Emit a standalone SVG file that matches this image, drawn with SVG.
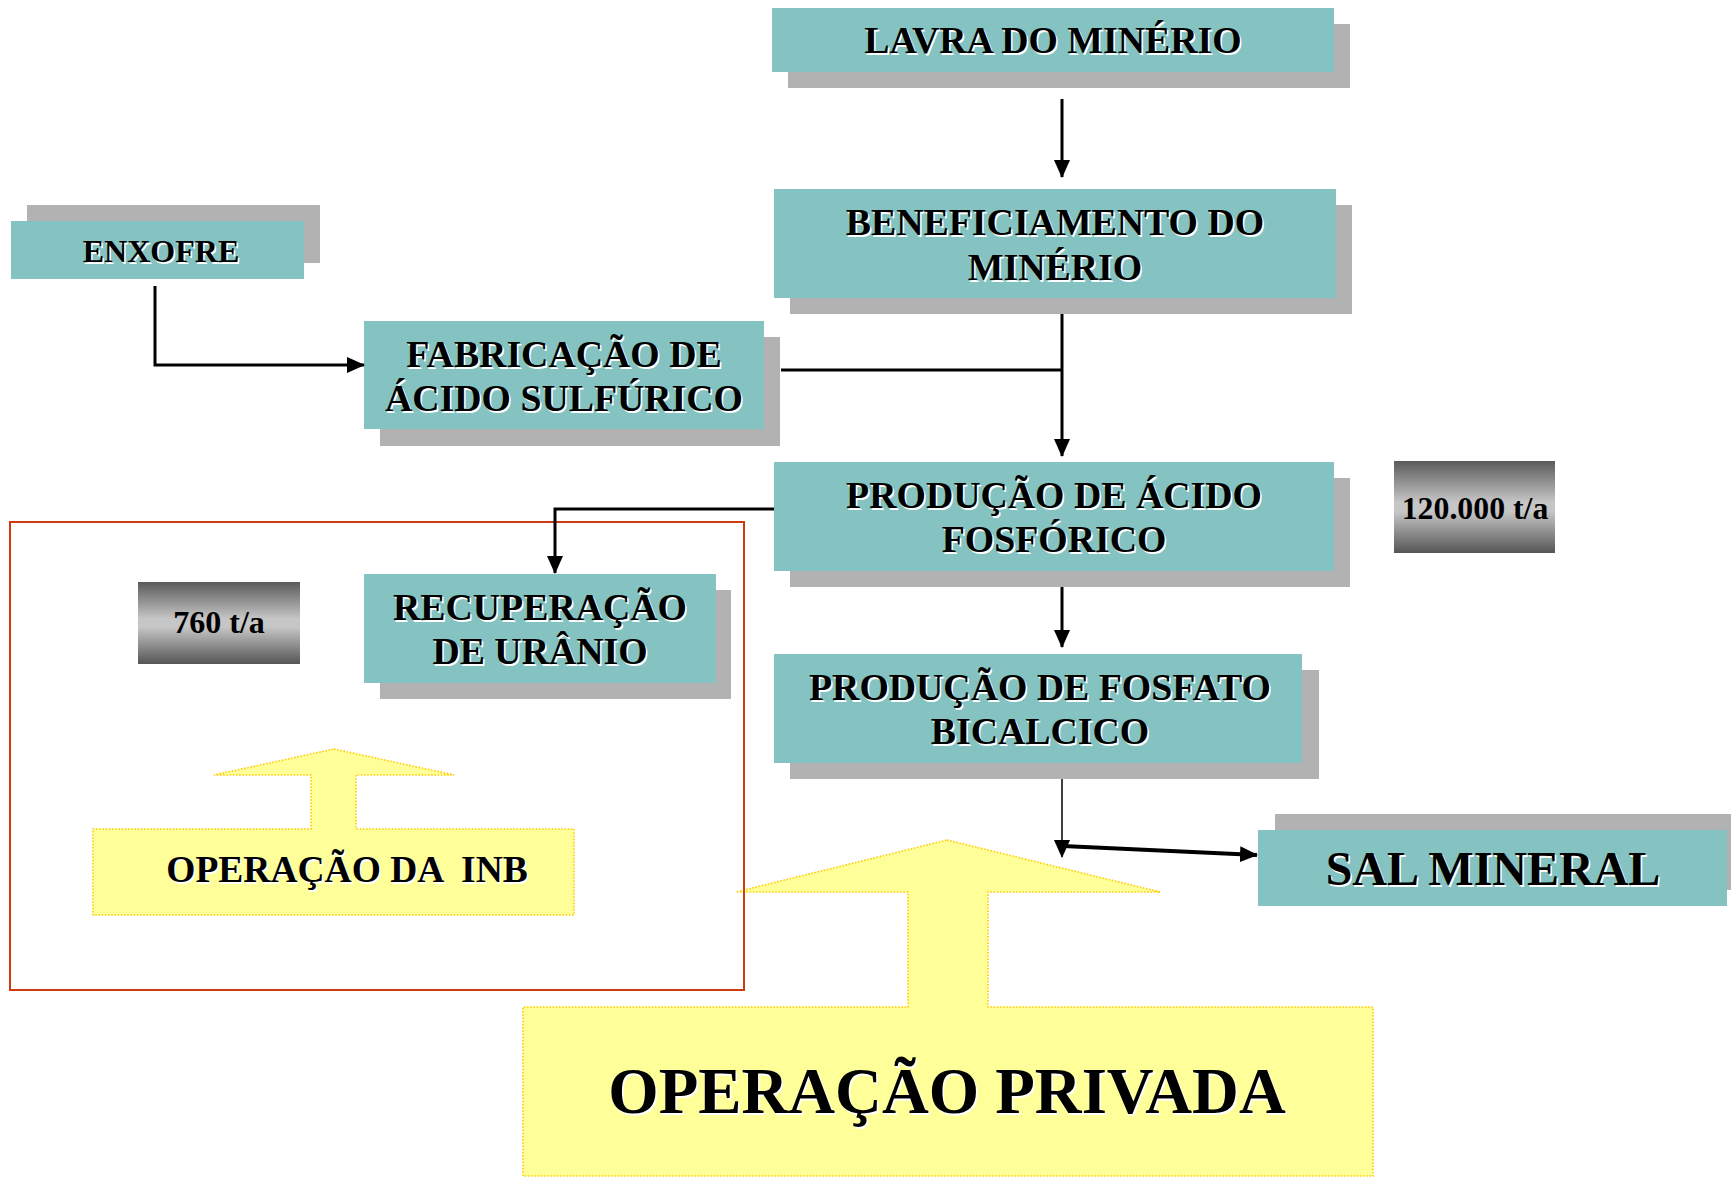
<svg xmlns="http://www.w3.org/2000/svg" width="1731" height="1178" viewBox="0 0 1731 1178">
<style>
.box{fill:#84c3c1}
.shd{fill:#b2b2b2}
.t{font-family:"Liberation Serif","Times New Roman",serif;font-weight:bold;text-anchor:middle;fill:#000;white-space:pre}
.m{font-size:37.8px}
.w{fill:#fff}
.yel{fill:#ffff99;stroke:#ffcc00;stroke-width:1.6;stroke-dasharray:1.6 1.6}
.gr{fill:url(#gg)}
.ln{fill:none;stroke:#000;stroke-width:3}
</style>
<defs>
<linearGradient id="gg" x1="0" y1="0" x2="0" y2="1">
<stop offset="0" stop-color="#5a5a5a"/>
<stop offset="0.45" stop-color="#c6c6c6"/>
<stop offset="0.55" stop-color="#c6c6c6"/>
<stop offset="1" stop-color="#555"/>
</linearGradient>
<marker id="ah" markerUnits="userSpaceOnUse" markerWidth="18" markerHeight="16" refX="17" refY="8" orient="auto">
<path d="M0,0 L18,8 L0,16 Z" fill="#000"/>
</marker>
</defs>

<g id="private-op">
<polygon class="yel" points="947,840 1160,892 988,892 988,1007 1373,1007 1373,1176 523,1176 523,1007 908,1007 908,892 736,892"/>
<text class="t w" x="948.5" y="1114.5" font-size="64.8">OPERAÇÃO PRIVADA</text>
<text class="t" x="947" y="1113" font-size="64.8">OPERAÇÃO PRIVADA</text>
</g>

<g id="inb-op">
<polygon class="yel" points="334,749 454,775 356,775 356,829 574,829 574,915 93,915 93,829 311,829 311,775 214,775"/>
<text class="t w" x="348.5" y="883.5" font-size="37.5">OPERAÇÃO DA  INB</text>
<text class="t" x="347" y="882" font-size="37.5">OPERAÇÃO DA  INB</text>
</g>

<rect id="inb-frame" x="10" y="522" width="734" height="468" fill="none" stroke="#d03a10" stroke-width="2"/>

<g id="lavra">
<rect class="shd" x="788" y="24" width="562" height="64"/>
<rect class="box" x="772" y="8" width="562" height="64"/>
<text class="t m w" x="1054.5" y="54.5">LAVRA DO MINÉRIO</text>
<text class="t m" x="1053" y="53">LAVRA DO MINÉRIO</text>
</g>

<g id="beneficiamento">
<rect class="shd" x="790" y="205" width="562" height="109"/>
<rect class="box" x="774" y="189" width="562" height="109"/>
<text class="t m w" x="1056.5" y="236.5">BENEFICIAMENTO DO</text>
<text class="t m" x="1055" y="235">BENEFICIAMENTO DO</text>
<text class="t m w" x="1056.5" y="281.5">MINÉRIO</text>
<text class="t m" x="1055" y="280">MINÉRIO</text>
</g>

<g id="enxofre">
<rect class="shd" x="27" y="205" width="293" height="58"/>
<rect class="box" x="11" y="221" width="293" height="58"/>
<text class="t w" x="162.5" y="263.5" font-size="32">ENXOFRE</text>
<text class="t" x="161" y="262" font-size="32">ENXOFRE</text>
</g>

<g id="fabricacao">
<rect class="shd" x="380" y="337" width="400" height="109"/>
<rect class="box" x="364" y="321" width="400" height="108"/>
<text class="t m w" x="565.5" y="368.5">FABRICAÇÃO DE</text>
<text class="t m" x="564" y="367">FABRICAÇÃO DE</text>
<text class="t m w" x="565.5" y="412.5">ÁCIDO SULFÚRICO</text>
<text class="t m" x="564" y="411">ÁCIDO SULFÚRICO</text>
</g>

<g id="acido-fosforico">
<rect class="shd" x="790" y="478" width="560" height="109"/>
<rect class="box" x="774" y="462" width="560" height="109"/>
<text class="t m w" x="1055.5" y="509.5">PRODUÇÃO DE ÁCIDO</text>
<text class="t m" x="1054" y="508">PRODUÇÃO DE ÁCIDO</text>
<text class="t m w" x="1055.5" y="553.5">FOSFÓRICO</text>
<text class="t m" x="1054" y="552">FOSFÓRICO</text>
</g>

<g id="cap-120000">
<rect class="gr" x="1394" y="461" width="161" height="92"/>
<text class="t" x="1475" y="519" font-size="31.8">120.000 t/a</text>
</g>

<g id="recuperacao">
<rect class="shd" x="380" y="590" width="351" height="109"/>
<rect class="box" x="364" y="574" width="352" height="109"/>
<text class="t m w" x="541.5" y="621.5">RECUPERAÇÃO</text>
<text class="t m" x="540" y="620">RECUPERAÇÃO</text>
<text class="t m w" x="541.5" y="665.5">DE URÂNIO</text>
<text class="t m" x="540" y="664">DE URÂNIO</text>
</g>

<g id="cap-760">
<rect class="gr" x="138" y="582" width="162" height="82"/>
<text class="t" x="219" y="633" font-size="32">760 t/a</text>
</g>

<g id="fosfato">
<rect class="shd" x="790" y="670" width="529" height="109"/>
<rect class="box" x="774" y="654" width="528" height="109"/>
<text class="t m w" x="1041.5" y="701.5">PRODUÇÃO DE FOSFATO</text>
<text class="t m" x="1040" y="700">PRODUÇÃO DE FOSFATO</text>
<text class="t m w" x="1041.5" y="745.5">BICALCICO</text>
<text class="t m" x="1040" y="744">BICALCICO</text>
</g>

<g id="sal-mineral">
<rect class="shd" x="1275" y="814" width="456" height="76"/>
<rect class="box" x="1258" y="830" width="469" height="76"/>
<text class="t w" x="1494.5" y="886.5" font-size="48">SAL MINERAL</text>
<text class="t" x="1493" y="885" font-size="48">SAL MINERAL</text>
</g>

<g id="connectors">
<path class="ln" d="M1062,99 L1062,177" marker-end="url(#ah)"/>
<path class="ln" d="M1062,314 L1062,456" marker-end="url(#ah)"/>
<path class="ln" d="M781,370 L1062,370"/>
<path class="ln" d="M155,286 L155,365 L364,365" marker-end="url(#ah)"/>
<path class="ln" d="M774,509 L555,509 L555,573" marker-end="url(#ah)"/>
<path class="ln" d="M1062,587 L1062,647" marker-end="url(#ah)"/>
<path fill="none" stroke="#000" stroke-width="1.5" d="M1062,779 L1062,857" marker-end="url(#ah)"/>
<path fill="none" stroke="#000" stroke-width="4" d="M1063,846 L1257,855" marker-end="url(#ah)"/>
</g>
</svg>
